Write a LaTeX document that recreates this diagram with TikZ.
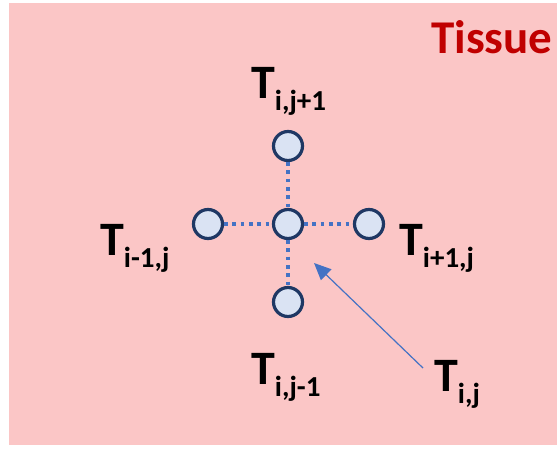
\documentclass[tikz,border=0pt]{standalone}
\usepackage{fontspec}
\setmainfont{Carlito}
\usetikzlibrary{arrows.meta}
\definecolor{tissuebg}{RGB}{251,198,198}
\definecolor{tissuered}{RGB}{192,0,0}
\definecolor{cellfill}{RGB}{218,227,243}
\definecolor{celledge}{RGB}{31,56,100}
\definecolor{linkblue}{RGB}{68,114,196}
\newcommand\Tlab[1]{\fontsize{48}{48}\selectfont\bfseries T\raisebox{-12pt}{\fontsize{29}{29}\selectfont\bfseries #1}}
\begin{document}
\begin{tikzpicture}[x=1pt,y=-1pt,
  cell/.style={circle,draw=celledge,fill=cellfill,line width=3.2pt,minimum size=29pt,inner sep=0pt},
  link/.style={draw=linkblue,line width=3.7pt,dash pattern=on 3.7pt off 4.6pt},
  lab/.style={anchor=base west,inner sep=0pt,text=black},
  pointer/.style={draw=linkblue,line width=1.2pt,-{Triangle[length=17pt,width=15pt]}}]
\useasboundingbox (0,0) rectangle (557,448);
\fill[white] (0,0) rectangle (557,448);
\fill[tissuebg] (9,2.5) rectangle (557,445);
\node[anchor=base west,inner sep=0pt,text=tissuered,font=\fontsize{47}{47}\selectfont\bfseries] (tissue) at (431,53) {Tissue};
% cells
\node[cell] (c) at (288,224) {};
\node[cell] (n) at (288,146) {};
\node[cell] (s) at (288,302) {};
\node[cell] (w) at (208,224) {};
\node[cell] (e) at (369,224) {};
% links
\draw[link] (n) -- (c);
\draw[link] (c) -- (s);
\draw[link] (w) -- (c);
\draw[link] (c) -- (e);
% labels
\node[lab] (ln) at (251,98) {\Tlab{i,j+1}};
\node[lab] (lw) at (100,255) {\Tlab{i-1,j}};
\node[lab] (le) at (399,255) {\Tlab{i+1,j}};
\node[lab] (ls) at (251,384) {\Tlab{i,j-1}};
\node[lab] (lc) at (434,391) {\Tlab{i,j}};
\coordinate (pstart) at (423,368);
\coordinate (ptip) at (314,263);
\draw[pointer] (pstart) -- (ptip);
\end{tikzpicture}
\end{document}
